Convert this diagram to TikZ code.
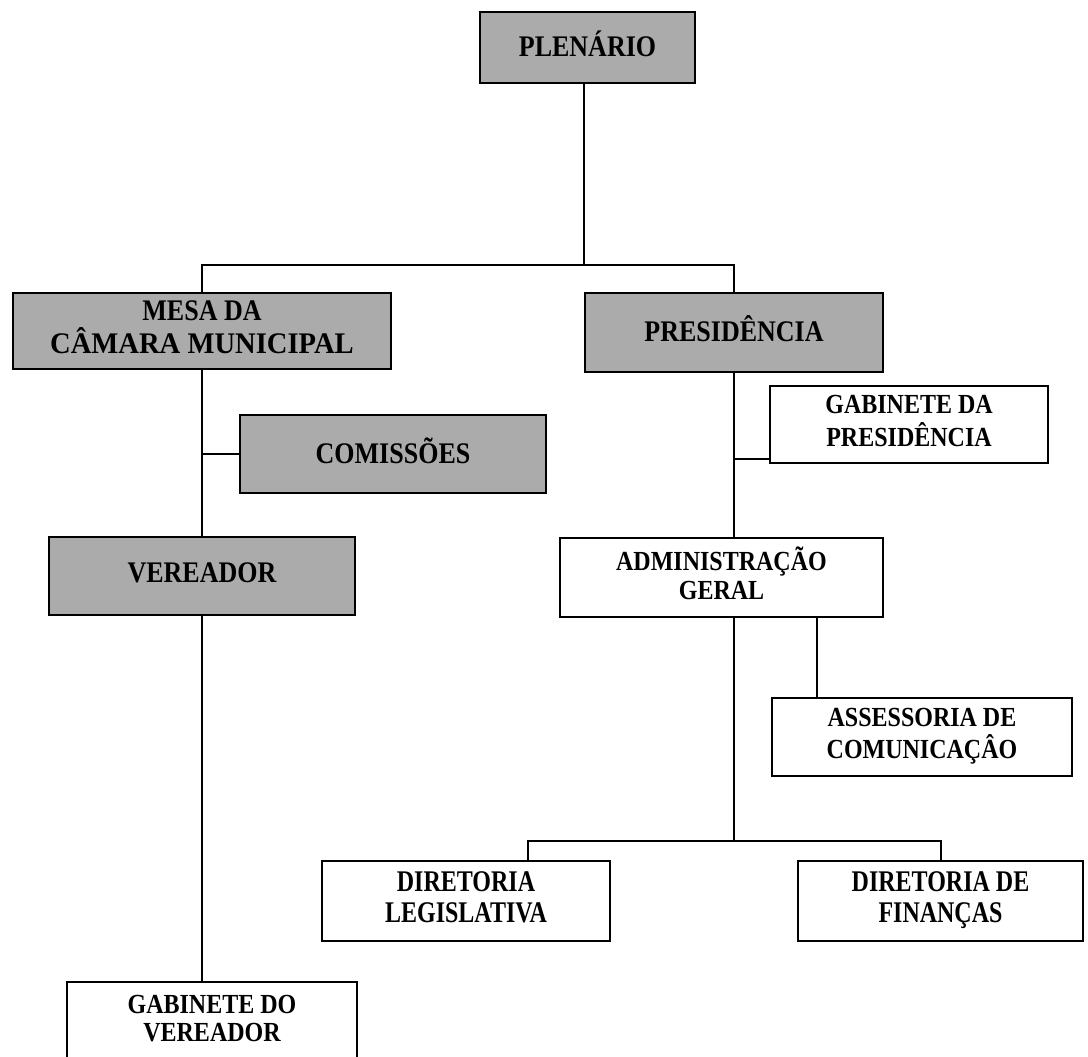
\documentclass[tikz,border=0pt]{standalone}
\usepackage{fontspec}
\usepackage{graphicx}
\setmainfont{Liberation Serif}
\newcommand\lbl[2][1.15]{\scalebox{1}[#1]{\begin{tabular}{@{}c@{}}#2\end{tabular}}}
\begin{document}
\begin{tikzpicture}[x=0.75pt,y=-0.75pt,
  sz/.style 2 args={minimum width={#1*0.75pt},minimum height={#2*0.75pt}},
  unit/.style={draw=black,line width=1.6pt,inner sep=0pt,align=center,
    font=\fontsize{18}{18.5}\selectfont\bfseries},
  shadedunit/.style={unit,line width=1.9pt,fill=black!33,font=\fontsize{19.5}{16.5}\selectfont\bfseries},
  link/.style={line width=1.5pt}]
\clip (0,0) rectangle (1088,1056);
\fill[white] (0,0) rectangle (1088,1056);
% boxes
\node[shadedunit,sz={215}{71}] (plen) at (587.5,47.5) {\lbl{PLENÁRIO}};
\node[shadedunit,sz={378}{76}] (mesa) at (202,331)
  {\lbl{MESA DA\\\scalebox{1.1}[1]{CÂMARA MUNICIPAL}}};
\node[shadedunit,sz={298}{79}] (pres) at (734,332.5) {\lbl{PRESIDÊNCIA}};
\node[shadedunit,sz={306}{78}] (com) at (393,454) {\lbl{COMISSÕES}};
\node[unit,sz={278}{77}] (gabp) at (909,424.5) {\lbl{GABINETE DA\\PRESIDÊNCIA}};
\node[shadedunit,sz={306}{78}] (ver) at (202,576) {\lbl{VEREADOR}};
\node[unit,sz={323}{79}] (admin) at (721.5,577.5) {\lbl{ADMINISTRAÇÃO\\GERAL}};
\node[unit,sz={300}{78}] (asses) at (922,737) {\lbl{ASSESSORIA DE\\COMUNICAÇÂO}};
\node[unit,sz={288}{80}] (dleg) at (466,901) {\lbl[1.25]{DIRETORIA\\LEGISLATIVA}};
\node[unit,sz={285}{80}] (dfin) at (940.5,901) {\lbl[1.25]{DIRETORIA DE\\FINANÇAS}};
\node[unit,sz={290}{80}] (gabv) at (212,1022) {\lbl{GABINETE DO\\VEREADOR}};
% connectors
\coordinate (b1) at (584,265);
\draw[link] (plen.south -| b1) -- (b1);
\draw[link] (mesa.north) -- (mesa.north |- b1) -- (pres.north |- b1) -- (pres.north);
\draw[link] (mesa.south) -- (mesa.south |- ver.north);
\draw[link] (com.west) -- (com.west -| mesa.south);
\draw[link] (ver.south) -- (ver.south |- gabv.north);
\draw[link] (pres.south) -- (pres.south |- admin.north);
\draw[link] ([yshift=3.75pt]gabp.south west) -- ([yshift=3.75pt]gabp.south west -| pres.south);
\draw[link] ([xshift=71.6pt]admin.south) -- ([xshift=71.6pt]admin.south |- asses.north);
\coordinate (b2) at (734,841);
\draw[link] (admin.south -| b2) -- (b2);
\draw[link] ([xshift=46.5pt]dleg.north) |- (b2) -| (dfin.north);
\end{tikzpicture}
\end{document}
